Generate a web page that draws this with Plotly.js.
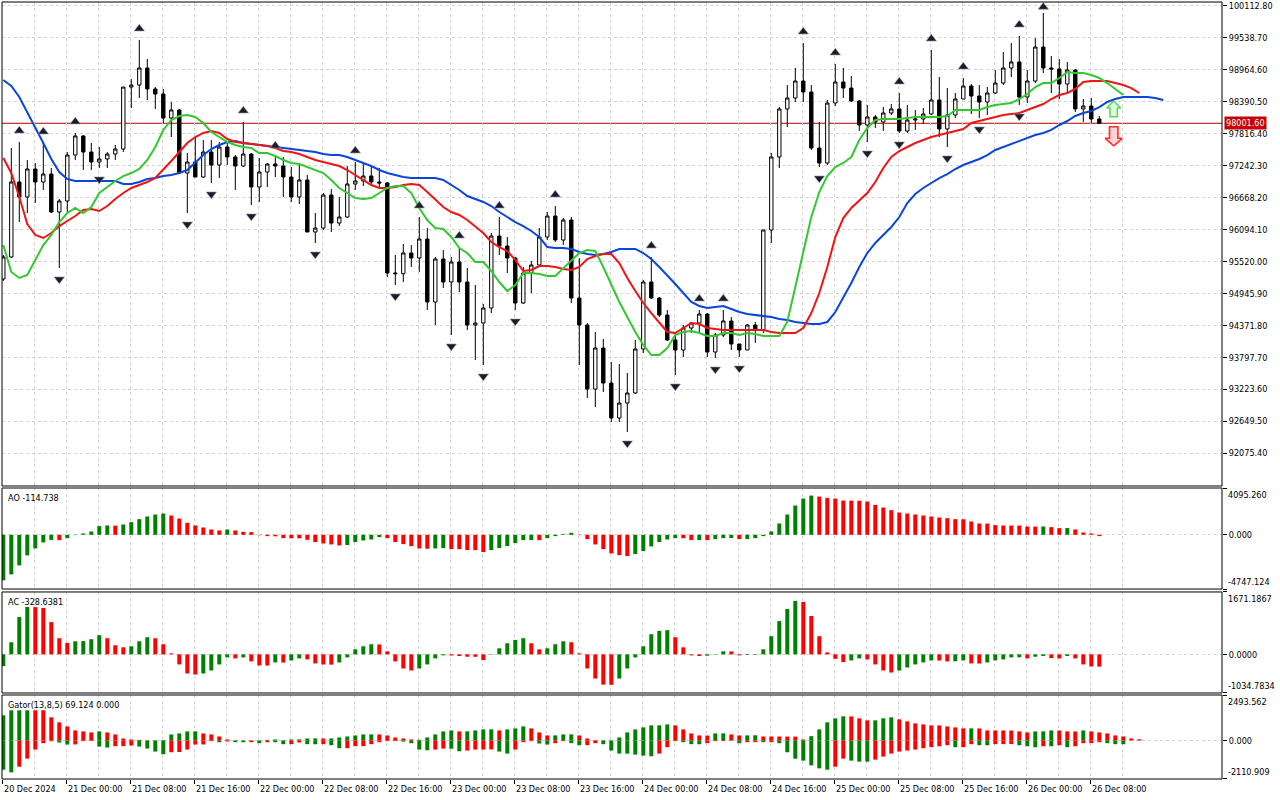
<!DOCTYPE html>
<html>
<head>
<meta charset="utf-8">
<script src="https://cdn.plot.ly/plotly-3.0.1.min.js"></script>
<style>html,body{margin:0;padding:0;background:#fff;}#chart{width:1280px;height:800px;}</style>
</head>
<body>
<div id="chart"></div>
<script>
// ---------- DATA (hourly candles, 20 Dec 2024 16:00 -> 26 Dec 2024 09:00) ----------
const openP = [
95205,95600,96947,96677,97180,96947,97090,96408,96606,97431,
97773,97485,97306,97360,97449,97539,98652,98688,98994,98617,
98527,98096,98240,97108,97306,97036,97485,97252,97575,97396,
97234,97449,96857,97126,97270,97234,97036,96677,96983,96049,
96120,96713,96210,96318,96911,96965,97054,96947,96929,95313,
95300,95672,95582,95923,94792,95564,95151,95510,95151,94379,
94415,94684,95977,95797,95582,94774,95313,95456,95959,96336,
95905,96264,94863,94379,93229,93966,93337,92709,92978,93158,
93948,95151,94863,94558,94110,93930,94325,94415,94576,93894,
94199,94451,94038,93930,94379,94289,96085,97396,98258,98455,
98760,98563,97557,97288,98365,98742,98634,98401,97970,98114,
98024,98186,98258,97863,98060,98078,98168,98419,97899,98150,
98437,98670,98491,98383,98545,98724,98994,99102,98473,98760,
99371,98994,98976,98706,98958,98258,98311,98078];
const highP = [
95636,97557,97665,97342,97288,97647,97198,96641,97485,97827,
97791,97647,97575,97485,97611,98652,98796,99497,99156,98652,
98617,98383,98258,97467,97737,97701,97701,97665,97647,97431,
98024,97467,97377,97288,97396,97396,97216,97288,97072,96390,
96749,96821,96677,97234,97306,97288,97234,97198,96947,95636,
95833,95815,96318,96120,95600,95726,95600,95779,95403,95097,
94756,96031,96318,95959,95600,95421,95528,96120,96408,96516,
96300,96318,95582,94415,94253,94127,93714,93678,93517,94110,
95187,95600,94881,94648,94235,94379,94433,94648,94594,94235,
94648,94522,94038,94397,94433,96085,97467,98293,98688,98994,
99443,98688,98024,98419,99066,98994,98850,98419,98329,98150,
98293,98347,98545,98329,98240,98275,99317,98832,98634,98545,
98814,98706,98688,98652,98958,99281,99443,99569,98958,99533,
99981,99209,99156,99102,98976,98437,98455,98132];
const lowP = [
95169,95582,96228,96390,96570,96803,96390,95403,96408,97342,
97162,97162,97198,97198,97342,97485,98275,98455,98419,98258,
98006,97755,97108,96390,97036,97018,96929,97018,97252,96803,
97216,96534,96588,96857,97036,96677,96588,96552,96049,95851,
96085,96049,96156,96300,96803,96875,96893,96857,95241,95097,
95151,95421,95331,94648,94379,95043,94199,94971,94289,93750,
93660,94594,95636,95313,94648,94756,94953,95421,95905,95869,
95815,94774,93660,93068,92906,93176,92637,92637,92457,93140,
93876,94846,94522,94092,93481,93804,94235,94235,93804,93786,
94163,93930,93804,93930,94056,94235,95851,97198,97934,98383,
98383,97521,97216,97252,98311,98455,98383,97863,97665,97916,
97863,98150,97827,97827,97881,97988,98150,97755,97575,98096,
98437,98168,98096,98150,98527,98688,98832,98329,98365,98724,
98904,98545,98437,98563,98204,98024,98006,97990];
const closeP = [
95600,96947,96677,97180,96947,97090,96408,96606,97431,97773,
97485,97306,97360,97449,97539,98652,98688,98994,98617,98527,
98096,98240,97108,97306,97036,97485,97252,97575,97396,97234,
97449,96857,97126,97270,97234,97036,96677,96983,96049,96120,
96713,96210,96318,96911,96965,97054,96947,96929,95313,95300,
95672,95582,95923,94792,95564,95151,95510,95151,94379,94415,
94684,95977,95797,95582,94774,95313,95456,95959,96336,95905,
96264,94863,94379,93229,93966,93337,92709,92978,93158,93948,
95151,94863,94558,94110,93930,94325,94415,94576,93894,94199,
94451,94038,93930,94379,94289,96085,97396,98258,98455,98760,
98563,97557,97288,98365,98742,98634,98401,97970,98114,98024,
98186,98258,97863,98060,98078,98168,98419,97899,98150,98437,
98670,98491,98383,98545,98724,98994,99102,98473,98760,99371,
98994,98976,98706,98958,98258,98311,98078,98001.6];

// Alligator (jaw shifted 8 bars, teeth 5, lips 3)
const jaw = [
98778,98670,98473,98204,97916,97647,97360,97126,97001,96965,
96965,96965,96965,96965,96965,96911,96911,96947,97001,97018,
97054,97072,97108,97162,97288,97431,97539,97611,97665,97683,
97647,97629,97611,97593,97575,97557,97539,97521,97503,97485,
97449,97431,97431,97396,97342,97288,97234,97162,97108,97072,
97036,97018,97018,97018,97018,96983,96893,96803,96695,96641,
96588,96516,96408,96318,96228,96156,96067,95959,95779,95762,
95762,95744,95690,95654,95636,95654,95690,95744,95744,95744,
95672,95564,95421,95277,95115,94953,94792,94720,94684,94702,
94720,94666,94612,94576,94558,94540,94522,94487,94469,94433,
94415,94397,94397,94433,94612,94863,95133,95421,95672,95851,
95995,96139,96318,96570,96731,96839,96929,97018,97090,97180,
97252,97306,97360,97431,97521,97575,97629,97683,97737,97791,
97827,97881,97970,98042,98132,98186,98222,98293,98383,98437,
98473,98473,98473,98473,98455,98419];
const teeth = [
97377,97108,96677,96192,95995,95941,96031,96156,96246,96336,
96444,96462,96426,96516,96641,96749,96839,96893,96947,97018,
97162,97324,97485,97647,97755,97827,97863,97827,97719,97665,
97647,97629,97611,97593,97557,97503,97485,97449,97396,97342,
97306,97270,97234,97162,97072,96983,96893,96839,96839,96857,
96893,96911,96893,96767,96624,96498,96408,96354,96264,96139,
96031,95869,95779,95708,95546,95349,95367,95438,95438,95421,
95385,95367,95421,95564,95618,95654,95654,95492,95223,94989,
94774,94594,94415,94253,94235,94325,94415,94397,94325,94307,
94289,94289,94289,94289,94289,94289,94253,94235,94235,94235,
94325,94594,94953,95421,95959,96300,96480,96624,96749,96947,
97198,97396,97503,97575,97647,97701,97755,97791,97827,97863,
97899,98006,98042,98078,98114,98150,98168,98186,98240,98293,
98347,98437,98509,98545,98617,98742,98760,98760,98760,98724,
98688,98634,98545];
const lips = [
95815,95331,95223,95277,95546,95815,95995,96228,96390,96480,
96390,96498,96749,96857,96965,97054,97108,97180,97342,97575,
97881,98060,98132,98150,98114,98006,97845,97755,97665,97611,
97575,97557,97467,97467,97413,97342,97288,97270,97216,97162,
97108,96983,96839,96749,96659,96641,96659,96749,96839,96875,
96875,96749,96480,96264,96120,96103,95959,95762,95672,95510,
95510,95349,95151,94989,95097,95313,95313,95295,95259,95259,
95403,95546,95672,95726,95708,95421,95097,94792,94522,94253,
94020,93840,93840,93966,94199,94253,94271,94235,94181,94181,
94235,94235,94199,94235,94217,94181,94181,94181,94433,95061,
95726,96318,96767,97054,97216,97288,97396,97701,97916,98060,
98078,98078,98078,98096,98114,98114,98114,98114,98132,98240,
98240,98240,98240,98293,98329,98347,98365,98437,98527,98652,
98724,98724,98814,98922,98904,98904,98868,98814,98724,98617,
98509];

// Bill Williams fractals (bar indices)
const fractalUpIdx = [2,5,9,17,30,34,44,52,57,62,69,81,87,90,100,104,112,116,120,127,130];
const fractalDownIdx = [7,12,23,26,31,39,49,56,60,64,78,84,89,92,102,108,112,118,122,127];

// Signal arrows (tip position)
const signalIdx = [138.8, 138.8];
const signalTipPrice = [98401, 97593];
const signalDir = [1, -1];

const lastPrice = 98001.6;

// Awesome Oscillator
const ao = [
-3987,-3463,-2677,-1804,-1193,-669,-450,-470,-291,-30,
116,291,757,815,800,902,1106,1368,1600,1775,
1862,1688,1426,1048,815,640,466,378,466,378,
262,233,-40,-116,-130,-291,-300,-310,-437,-640,
-757,-844,-931,-902,-640,-495,-407,-204,-291,-640,
-815,-989,-1193,-1222,-1193,-1164,-1251,-1260,-1339,-1345,
-1513,-1339,-1164,-989,-727,-466,-460,-470,-291,-116,
58,175,-30,-378,-844,-1251,-1630,-1775,-1862,-1688,
-1426,-1019,-640,-407,-291,-300,-466,-460,-470,-378,
-291,-280,-378,-370,-291,-116,291,989,1775,2561,
3172,3434,3347,3230,3172,2998,2990,2980,2910,2619,
2386,2153,1950,1862,1775,1688,1600,1513,1455,1368,
1360,1164,989,980,844,815,810,805,727,720,
730,669,582,590,466,204,116,-114.738];

// Accelerator Oscillator
const ac = [
-315,324,999,1269,1265,1242,864,432,306,351,
355,405,513,432,243,189,216,351,459,432,
270,27,-270,-513,-540,-513,-432,-270,-81,-108,
-81,-189,-297,-300,-216,-220,-162,-108,-135,-243,
-270,-275,-216,-81,135,216,270,265,81,-189,
-378,-432,-378,-270,-108,-27,-30,-45,-63,-65,
-153,-9,162,297,387,432,297,135,162,270,
351,324,27,-378,-648,-810,-815,-648,-378,-81,
216,540,630,648,459,189,-27,-45,-36,9,
81,78,-27,-18,-15,135,486,891,1215,1431,
1404,1026,486,54,-117,-207,-162,-108,-135,-270,
-432,-486,-432,-351,-270,-216,-162,-165,-189,-185,
-162,-243,-245,-216,-162,-135,-81,-78,-108,-63,
-45,-99,-108,-45,-108,-270,-324,-328.6381];

// Gator Oscillator (upper = |jaw-teeth|, lower = -|teeth-lips|)
const gatorUp = [
1380,1656,1656,1656,1656,1656,1270,994,773,552,
497,442,497,442,331,110,55,37,10,5,
20,331,386,497,500,386,331,221,55,10,
5,5,10,37,55,10,55,60,110,115,
110,112,165,221,276,331,335,331,276,165,
110,60,40,166,331,497,552,497,500,552,
607,610,552,607,662,773,662,442,276,280,
331,335,276,110,20,10,5,166,442,607,
718,828,830,883,828,607,386,276,270,386,
390,331,276,280,285,221,220,218,216,214,
55,239,607,994,1214,1325,1320,1214,1104,1105,
1214,1270,1159,1049,938,883,828,825,773,718,
662,665,660,552,550,548,546,497,442,497,
500,552,548,497,495,552,497,442,386,276,
221,110,69.124];
const gatorUpDir = [
"ggggrrrrrr","rrgrrrrrrr","gggggrrrrr","rggggrgggg","rggggggrrr",
"rrrggggrgg","ggrgggrrrg","ggrrrrrggg","ggggrrrrrg","grrggrrrrr",
"rgggggrrrg","ggrrrrrrrr","rgrrrrrrrg","ggrrrgrrrr","rrr"];
const gatorDown = [
-1601,-1748,-1435,-994,-497,-147,-40,-110,-221,-215,
-37,-30,-331,-386,-313,-310,-276,-331,-441,-607,
-754,-644,-630,-497,-221,-215,-37,-92,-55,-92,
-95,-90,-147,-92,-95,-202,-200,-110,-202,-205,
-200,-258,-423,-420,-313,-310,-202,-92,-37,-30,
-60,-147,-497,-534,-497,-441,-450,-589,-552,-497,
-495,-490,-607,-718,-497,-92,-37,-166,-221,-147,
-37,-147,-258,-255,-147,-202,-552,-718,-720,-773,
-828,-865,-718,-368,-37,-92,-202,-205,-147,-37,
-35,-10,-147,-92,-90,-92,-90,-147,-644,-1000,
-1104,-1362,-1527,-1601,-1435,-994,-1104,-1159,-1160,-1049,
-883,-718,-607,-552,-497,-423,-368,-313,-258,-368,
-366,-202,-258,-260,-202,-200,-198,-258,-313,-368,
-313,-315,-258,-368,-313,-147,-145,-92,-147,-202,
-205];
const gatorDownDir = [
"ggrrrrrggr","rrggrrrggg","grrrrrrgrg","grgrggrrgg","rggrrrrrrr",
"ggggrrggrr","rrggrrrggr","rggrrggggg","ggrrrgggrr","rrgrrgrggg",
"ggggrrgggr","rrrrrrrrrg","rrggrrrggg","rgrgrrrrgg","g"];

// Axis ticks and labels
const priceTicks = [100112.80,99538.70,98964.60,98390.50,97816.40,97242.30,96668.20,96094.10,95520.00,94945.90,94371.80,93797.70,93223.60,92649.50,92075.40];
const xTickIdx = [0,8,16,24,32,40,48,56,64,72,80,88,96,104,112,120,128,136];
const xTickLabels = ["20 Dec 2024","21 Dec 00:00","21 Dec 08:00","21 Dec 16:00","22 Dec 00:00","22 Dec 08:00","22 Dec 16:00","23 Dec 00:00","23 Dec 08:00","23 Dec 16:00","24 Dec 00:00","24 Dec 08:00","24 Dec 16:00","25 Dec 00:00","25 Dec 08:00","25 Dec 16:00","26 Dec 00:00","26 Dec 08:00"];
const aoRange = [-4747.124, 4095.260];
const acRange = [-1034.7834, 1671.1867];
const gatorRange = [-2110.909, 2493.562];
const aoRangeText = ["-4747.124", "4095.260"];
const acRangeText = ["-1034.7834", "1671.1867"];
const gatorRangeText = ["-2110.909", "2493.562"];
const aoLabel = "AO -114.738";
const acLabel = "AC -328.6381";
const gatorLabel = "Gator(13,8,5) 69.124 0.000";

// ---------- STYLE / LAYOUT ----------
const FONT = 'DejaVu Sans Condensed, DejaVu Sans, sans-serif';
const GREEN = '#008000', RED = '#ff0000';
const GRID = '#d4d4d4', GDASH = '3px,3px';
const W = 1280, H = 800, M = {l: 2, r: 58, t: 2, b: 21};
const plotW = W - M.l - M.r, plotH = H - M.t - M.b;
const dom = {main: [0.3771, 1], ao: [0.2445, 0.3745], ac: [0.1107, 0.2407], gator: [0, 0.1081]};
const mainRange = [91488, 100179];
const X0 = -0.1625, X1 = 152.3375;
const FR_SIZE = 9;      // fractal glyph size (px)
const FR_GAP = 9;       // gap between bar extreme and glyph (px)
const FR_EDGE = 5;      // keep glyphs inside the window (px from top)

const idx = a => a.map((_, i) => i);
const colorsFromValues = v => v.map((x, i) => (i === 0 || x > v[i - 1]) ? GREEN : RED);
const colorsFromCodes = (codes, v) => {
  const s = codes.join('');
  const fb = colorsFromValues(v.map(Math.abs));
  return v.map((_, i) => s[i] === 'g' ? GREEN : (s[i] === 'r' ? RED : fb[i]));
};

const pricePerPx = (mainRange[1] - mainRange[0]) / ((dom.main[1] - dom.main[0]) * plotH);
const barsPerPx = (X1 - X0) / plotW;
const frOff = (FR_GAP + FR_SIZE / 4) * pricePerPx;
const frTop = mainRange[1] - FR_EDGE * pricePerPx;

const traces = [];
traces.push({
  type: 'candlestick', x: idx(openP), open: openP, high: highP, low: lowP, close: closeP,
  xaxis: 'x', yaxis: 'y', whiskerwidth: 0,
  increasing: {line: {color: '#000', width: 1}, fillcolor: '#ffffff'},
  decreasing: {line: {color: '#000', width: 1}, fillcolor: '#000000'},
  hoverinfo: 'skip'
});
const lineTrace = (arr, color) => ({
  type: 'scatter', mode: 'lines', x: idx(arr), y: arr, xaxis: 'x', yaxis: 'y',
  line: {color: color, width: 2}, hoverinfo: 'skip'
});
traces.push(lineTrace(jaw, '#0a46dc'));
traces.push(lineTrace(teeth, '#f01414'));
traces.push(lineTrace(lips, '#32c832'));
traces.push({
  type: 'scatter', mode: 'markers', x: fractalUpIdx, y: fractalUpIdx.map(i => Math.min(highP[i] + frOff, frTop)),
  xaxis: 'x', yaxis: 'y', cliponaxis: false,
  marker: {symbol: 'triangle-up', size: FR_SIZE, color: '#1c1c24', line: {color: '#8a94b4', width: 0.6}}, hoverinfo: 'skip'
});
traces.push({
  type: 'scatter', mode: 'markers', x: fractalDownIdx, y: fractalDownIdx.map(i => lowP[i] - frOff),
  xaxis: 'x', yaxis: 'y', cliponaxis: false,
  marker: {symbol: 'triangle-down', size: FR_SIZE, color: '#1c1c24', line: {color: '#8a94b4', width: 0.6}}, hoverinfo: 'skip'
});

// hollow block-arrow glyphs for the signals (glyph outline in px, placed at the signal tip)
const arrowGlyph = {
  up:   {halfHead: 7, headH: 7, halfShaft: 3.7, len: 15.7, line: '#5ad85a', fill: '#e4fae4'},
  down: {halfHead: 8.5, headH: 7.7, halfShaft: 4.2, len: 19.3, line: '#ff2a2a', fill: '#ffd4d4'}
};
signalIdx.forEach((sx, k) => {
  const dir = signalDir[k];
  const g = dir > 0 ? arrowGlyph.up : arrowGlyph.down;
  const pts = [[0, 0], [g.halfHead, g.headH], [g.halfShaft, g.headH], [g.halfShaft, g.len],
               [-g.halfShaft, g.len], [-g.halfShaft, g.headH], [-g.halfHead, g.headH], [0, 0]];
  traces.push({
    type: 'scatter', mode: 'lines', fill: 'toself', xaxis: 'x', yaxis: 'y', cliponaxis: false,
    x: pts.map(p => sx + p[0] * barsPerPx),
    y: pts.map(p => signalTipPrice[k] - dir * p[1] * pricePerPx),
    line: {color: g.line, width: 1.6}, fillcolor: g.fill, hoverinfo: 'skip'
  });
});

traces.push({
  type: 'bar', x: idx(ao), y: ao, xaxis: 'x', yaxis: 'y2', width: 0.5,
  marker: {color: colorsFromValues(ao), line: {width: 0}}, hoverinfo: 'skip'
});
traces.push({
  type: 'bar', x: idx(ac), y: ac, xaxis: 'x', yaxis: 'y3', width: 0.5,
  marker: {color: colorsFromValues(ac), line: {width: 0}}, hoverinfo: 'skip'
});
traces.push({
  type: 'bar', x: idx(gatorUp), y: gatorUp, xaxis: 'x', yaxis: 'y4', width: 0.5,
  marker: {color: colorsFromCodes(gatorUpDir, gatorUp), line: {width: 0}}, hoverinfo: 'skip'
});
traces.push({
  type: 'bar', x: idx(gatorDown), y: gatorDown, xaxis: 'x', yaxis: 'y4', width: 0.5,
  marker: {color: colorsFromCodes(gatorDownDir, gatorDown), line: {width: 0}}, hoverinfo: 'skip'
});

const tickFont = {family: FONT, size: 9, color: '#000'};
const indAxis = (d, r, zeroText) => ({
  domain: d, range: r, side: 'right', anchor: 'x', fixedrange: true,
  tickmode: 'array', tickvals: [0], ticktext: [zeroText],
  ticks: 'outside', ticklen: 4, tickcolor: '#000', tickfont: tickFont,
  showgrid: true, gridcolor: GRID, griddash: GDASH, zeroline: false, showline: false,
  minor: {tickmode: 'array', tickvals: [r[0], r[1]], ticks: 'outside', ticklen: 4, tickcolor: '#000', showgrid: false}
});

const layout = {
  width: W, height: H, margin: {l: M.l, r: M.r, t: M.t, b: M.b, pad: 0},
  paper_bgcolor: '#ffffff', plot_bgcolor: '#ffffff', showlegend: false,
  barmode: 'overlay', boxgap: 0.4, font: {family: FONT, size: 9, color: '#000'},
  xaxis: {
    domain: [0, 1], anchor: 'y4', range: [X0, X1], fixedrange: true,
    rangeslider: {visible: false},
    tickmode: 'array', tickvals: xTickIdx.map(v => v - 0.1), showticklabels: false,
    ticks: 'outside', ticklen: 4, tickcolor: '#000',
    showgrid: true, gridcolor: GRID, griddash: GDASH, zeroline: false, showline: false,
    minor: {tickmode: 'array', tickvals: xTickIdx.map(v => v + 3.9), showgrid: true, gridcolor: GRID, griddash: GDASH, ticks: ''}
  },
  yaxis: {
    domain: dom.main, range: mainRange, side: 'right', anchor: 'x', fixedrange: true,
    tickmode: 'array', tickvals: priceTicks, ticktext: priceTicks.map(v => v.toFixed(2)),
    ticks: 'outside', ticklen: 4, tickcolor: '#000', tickfont: tickFont,
    showgrid: true, gridcolor: GRID, griddash: GDASH, zeroline: false, showline: false
  },
  yaxis2: indAxis(dom.ao, aoRange, '0.000'),
  yaxis3: indAxis(dom.ac, acRange, '0.0000'),
  yaxis4: indAxis(dom.gator, gatorRange, '0.000'),
  shapes: [],
  annotations: []
};

// pane frames
['y', 'y2', 'y3', 'y4'].forEach(a => layout.shapes.push({
  type: 'rect', xref: 'paper', yref: a + ' domain', x0: 0, x1: 1, y0: 0, y1: 1,
  line: {color: '#000', width: 1}, fillcolor: 'rgba(0,0,0,0)', layer: 'above'
}));
// current price line
layout.shapes.push({
  type: 'line', xref: 'paper', yref: 'y', x0: 0, x1: 1, y0: lastPrice, y1: lastPrice,
  line: {color: '#b40000', width: 1}, layer: 'below'
});
// bottom time labels (left aligned at tick, MetaTrader style)
xTickIdx.forEach((v, k) => layout.annotations.push({
  x: v - 0.1, xref: 'x', y: -0.0125, yref: 'paper', xanchor: 'left', yanchor: 'middle',
  text: xTickLabels[k], showarrow: false, font: tickFont, xshift: -1
}));
// price label
layout.annotations.push({
  x: 1, xref: 'paper', y: lastPrice, yref: 'y', xanchor: 'left', yanchor: 'middle', xshift: 2,
  text: lastPrice.toFixed(2), showarrow: false, bgcolor: '#c80000', borderpad: 1,
  font: {family: FONT, size: 9, color: '#ffffff'}
});
// indicator names and range labels
[[aoLabel, 'y2', aoRangeText], [acLabel, 'y3', acRangeText], [gatorLabel, 'y4', gatorRangeText]].forEach(([name, ax, rt]) => {
  layout.annotations.push({x: 0, xref: 'paper', y: 1, yref: ax + ' domain', xanchor: 'left', yanchor: 'top',
    xshift: 4, yshift: -3, text: name, showarrow: false, font: tickFont});
  layout.annotations.push({x: 1, xref: 'paper', y: 1, yref: ax + ' domain', xanchor: 'left', yanchor: 'top',
    xshift: 4, yshift: 0, text: rt[1], showarrow: false, font: tickFont});
  layout.annotations.push({x: 1, xref: 'paper', y: 0, yref: ax + ' domain', xanchor: 'left', yanchor: 'bottom',
    xshift: 4, yshift: 0, text: rt[0], showarrow: false, font: tickFont});
});

Plotly.newPlot('chart', traces, layout, {staticPlot: true, displayModeBar: false});
</script>
</body>
</html>
